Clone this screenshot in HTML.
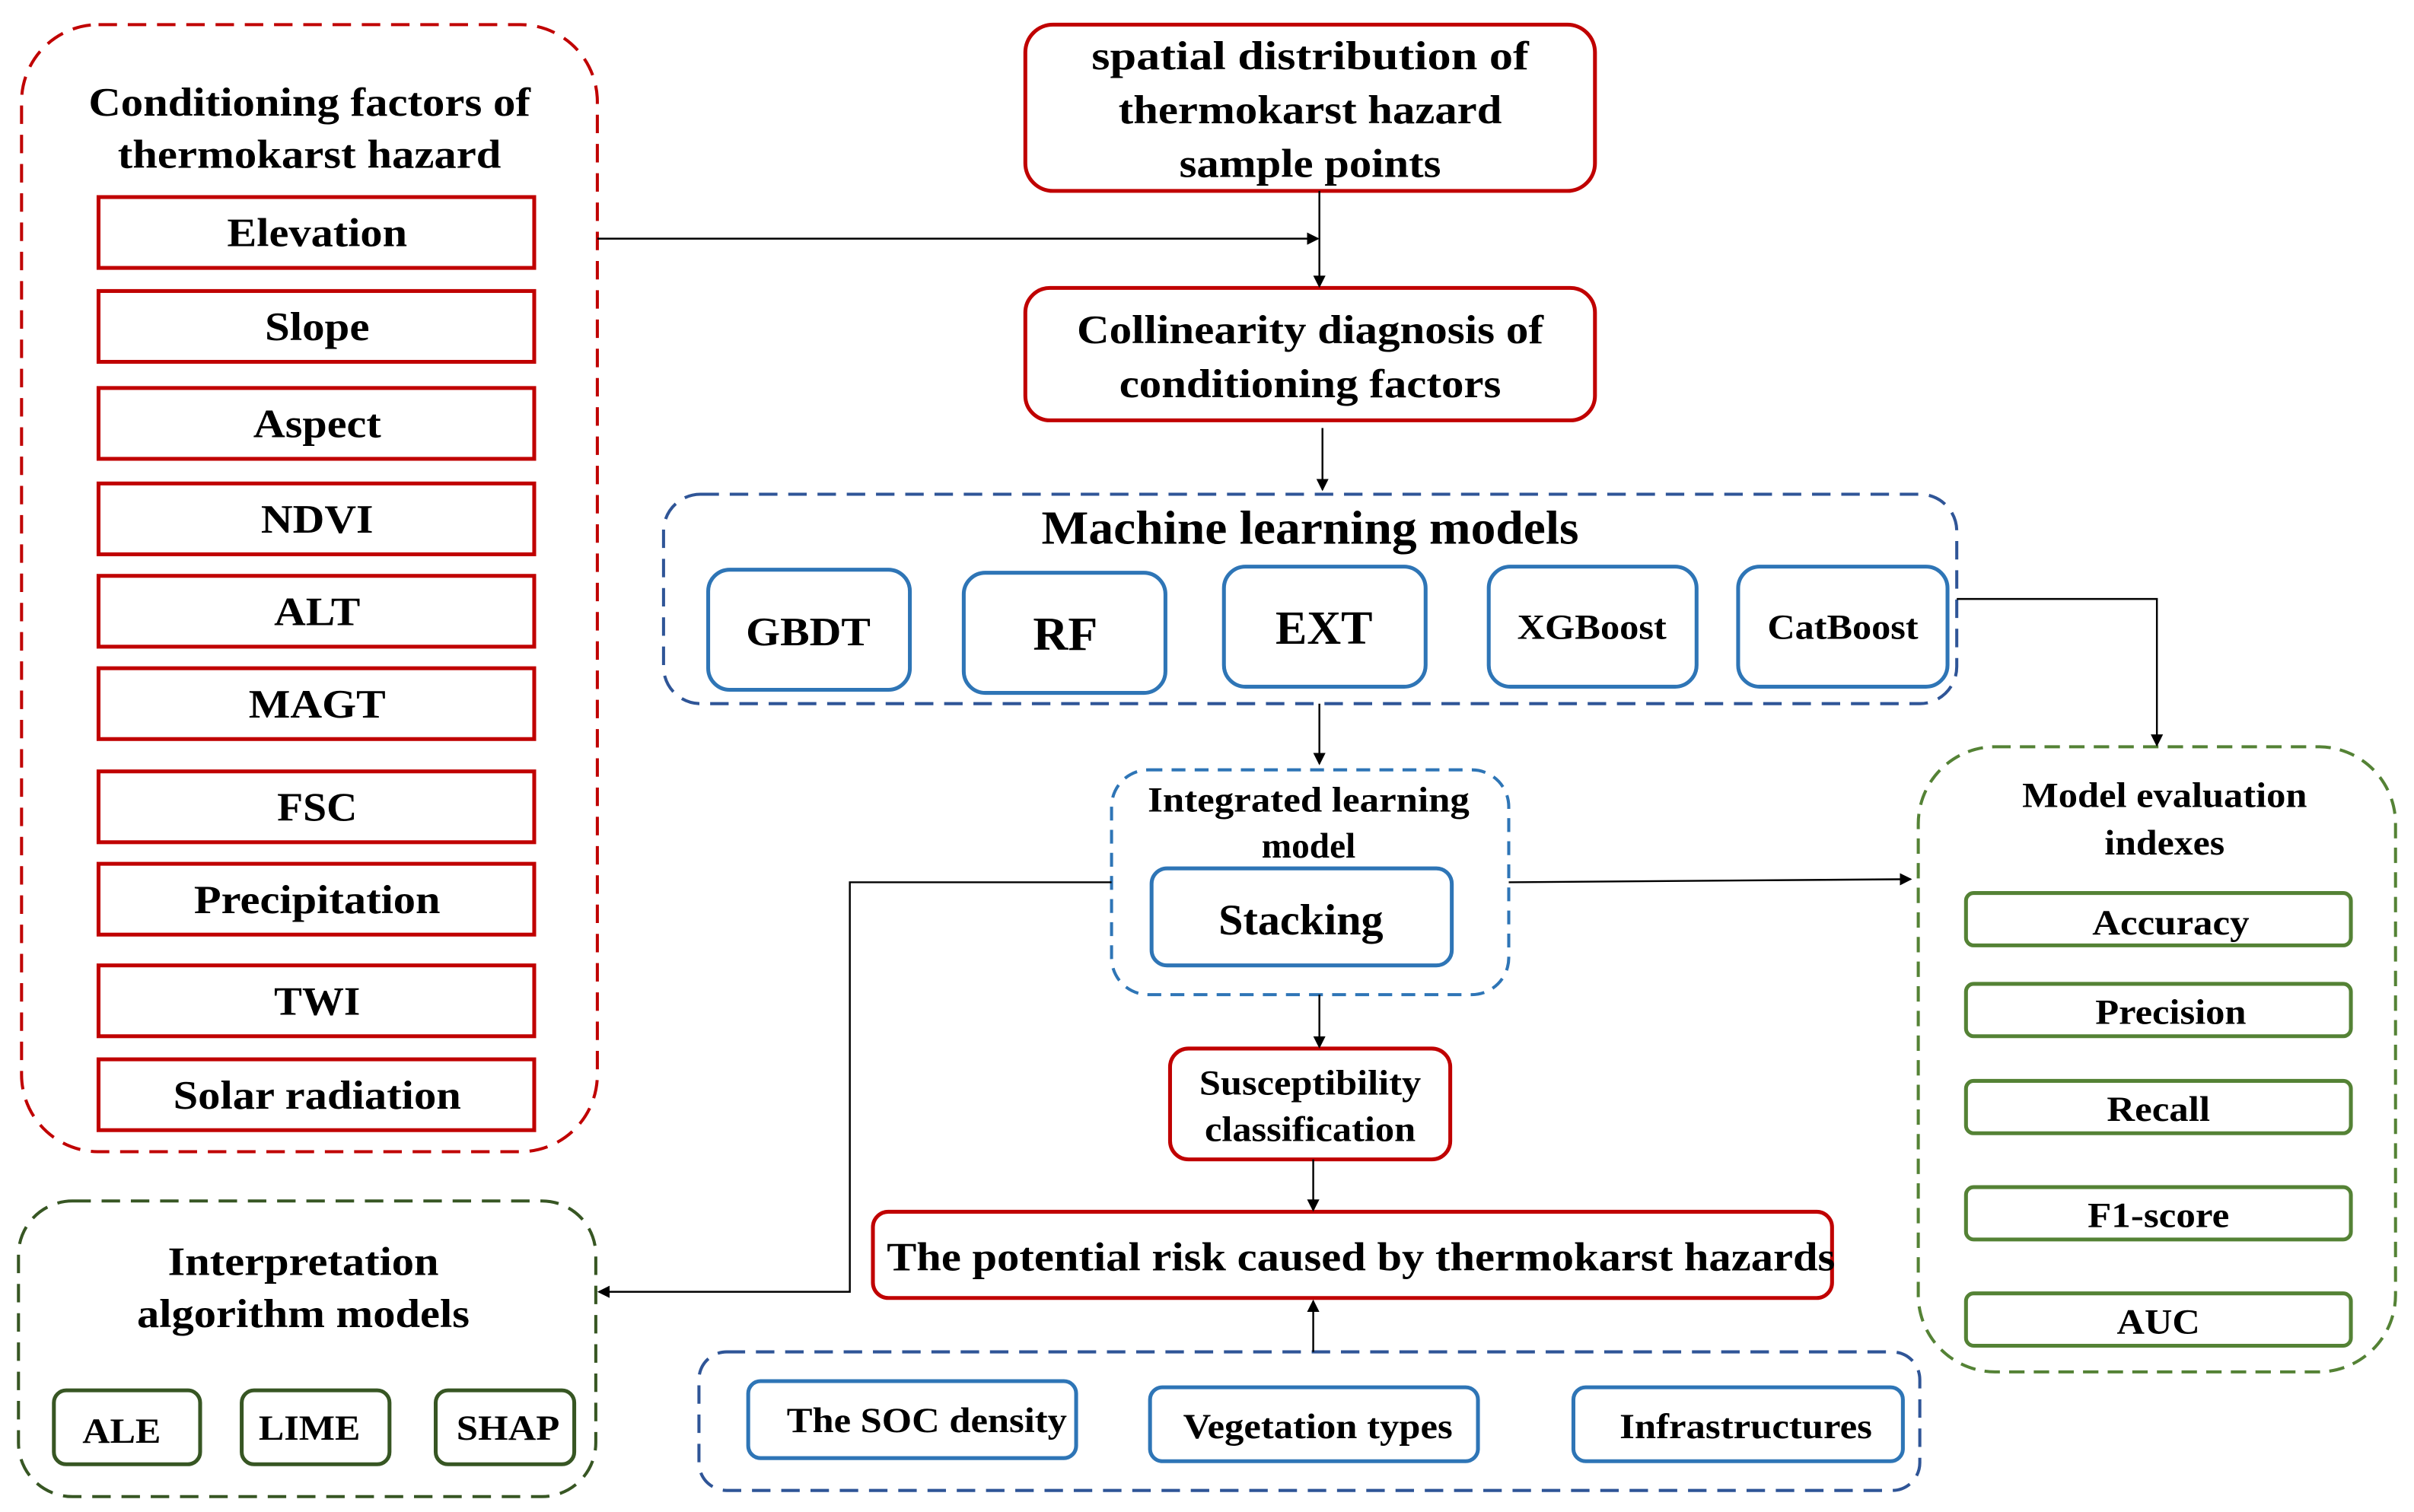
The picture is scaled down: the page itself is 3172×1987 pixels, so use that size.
<!DOCTYPE html>
<html><head><meta charset="utf-8"><style>
html,body{margin:0;padding:0;background:#fff;}
svg{display:block;}
text{font-family:"Liberation Serif",serif;font-weight:bold;fill:#000;text-anchor:middle;}
</style></head><body>
<svg width="3172" height="1987" viewBox="0 0 1568 982" preserveAspectRatio="none" xmlns="http://www.w3.org/2000/svg">
<defs>
<marker id="a" markerWidth="8" markerHeight="8" refX="7" refY="4" orient="auto" markerUnits="userSpaceOnUse"><path d="M0,0 L8,4 L0,8 z" fill="#000"/></marker>
</defs>
<g fill="none">
<!-- left red dashed -->
<rect x="14" y="16" width="374" height="732" rx="50" stroke="#c00000" stroke-width="2" stroke-dasharray="12,7"/>
<g stroke="#c00000" stroke-width="2.5">
<rect x="64" y="128" width="283" height="46"/><rect x="64" y="189" width="283" height="46"/>
<rect x="64" y="252" width="283" height="46"/><rect x="64" y="314" width="283" height="46"/>
<rect x="64" y="374" width="283" height="46"/><rect x="64" y="434" width="283" height="46"/>
<rect x="64" y="501" width="283" height="46"/><rect x="64" y="561" width="283" height="46"/>
<rect x="64" y="627" width="283" height="46"/><rect x="64" y="688" width="283" height="46"/>
<rect x="666" y="16" width="370" height="108" rx="18"/>
<rect x="666" y="187" width="370" height="86" rx="16"/>
<rect x="760" y="681" width="182" height="72" rx="12"/>
<rect x="567" y="787" width="623" height="56" rx="10"/>
</g>
<!-- blue dashed -->
<g stroke="#2f5597" stroke-width="2" stroke-dasharray="12,7">
<rect x="431" y="321" width="840" height="136" rx="24"/>
<rect x="454" y="878" width="793" height="90" rx="18"/>
</g>
<rect x="722" y="500" width="258" height="146" rx="24" stroke="#2e75b6" stroke-width="2" stroke-dasharray="9,6"/>
<g stroke="#2e75b6" stroke-width="2.5">
<rect x="460" y="370" width="131" height="78" rx="14"/>
<rect x="626" y="372" width="131" height="78" rx="14"/>
<rect x="795" y="368" width="131" height="78" rx="14"/>
<rect x="967" y="368" width="135" height="78" rx="14"/>
<rect x="1129" y="368" width="136" height="78" rx="14"/>
<rect x="748" y="564" width="195" height="63" rx="10"/>
<rect x="486" y="897" width="213" height="50" rx="8"/>
<rect x="747" y="901" width="213" height="48" rx="8"/>
<rect x="1022" y="901" width="214" height="48" rx="8"/>
</g>
<!-- green -->
<rect x="1246" y="485" width="310" height="406" rx="50" stroke="#548235" stroke-width="2" stroke-dasharray="10,6"/>
<rect x="12" y="780" width="375" height="192" rx="35" stroke="#375623" stroke-width="2" stroke-dasharray="12,7"/>
<g stroke="#548235" stroke-width="2.5">
<rect x="1277" y="580" width="250" height="34" rx="5"/>
<rect x="1277" y="639" width="250" height="34" rx="5"/>
<rect x="1277" y="702" width="250" height="34" rx="5"/>
<rect x="1277" y="771" width="250" height="34" rx="5"/>
<rect x="1277" y="840" width="250" height="34" rx="5"/>
</g>
<g stroke="#375623" stroke-width="2.5">
<rect x="35" y="903" width="95" height="48" rx="8"/>
<rect x="157" y="903" width="96" height="48" rx="8"/>
<rect x="283" y="903" width="90" height="48" rx="8"/>
</g>
<!-- connectors -->
<g stroke="#000" stroke-width="1.2">
<line x1="388" y1="155" x2="856" y2="155" marker-end="url(#a)"/>
<line x1="857" y1="124" x2="857" y2="186" marker-end="url(#a)"/>
<line x1="859" y1="278" x2="859" y2="318" marker-end="url(#a)"/>
<polyline points="1271,389 1401,389 1401,484" marker-end="url(#a)"/>
<line x1="857" y1="457" x2="857" y2="496" marker-end="url(#a)"/>
<polyline points="722,573 552,573 552,839 389,839" marker-end="url(#a)"/>
<line x1="980" y1="573" x2="1241" y2="571" marker-end="url(#a)"/>
<line x1="857" y1="646" x2="857" y2="680" marker-end="url(#a)"/>
<line x1="853" y1="753" x2="853" y2="786" marker-end="url(#a)"/>
<line x1="853" y1="878" x2="853" y2="845" marker-end="url(#a)"/>
</g>
</g>
<!-- text -->
<g font-size="26">
<text x="201" y="75" textLength="287" lengthAdjust="spacingAndGlyphs">Conditioning factors of</text>
<text x="201" y="109" textLength="249" lengthAdjust="spacingAndGlyphs">thermokarst hazard</text>
<text x="206" y="160" textLength="117" lengthAdjust="spacingAndGlyphs">Elevation</text>
<text x="206" y="221" textLength="68" lengthAdjust="spacingAndGlyphs">Slope</text>
<text x="206" y="284" textLength="83" lengthAdjust="spacingAndGlyphs">Aspect</text>
<text x="206" y="346" textLength="73" lengthAdjust="spacingAndGlyphs">NDVI</text>
<text x="206" y="406" textLength="56" lengthAdjust="spacingAndGlyphs">ALT</text>
<text x="206" y="466" textLength="89" lengthAdjust="spacingAndGlyphs">MAGT</text>
<text x="206" y="533" textLength="52" lengthAdjust="spacingAndGlyphs">FSC</text>
<text x="206" y="593" textLength="160" lengthAdjust="spacingAndGlyphs">Precipitation</text>
<text x="206" y="659" textLength="56" lengthAdjust="spacingAndGlyphs">TWI</text>
<text x="206" y="720" textLength="187" lengthAdjust="spacingAndGlyphs">Solar radiation</text>
<text x="851" y="45" textLength="284" lengthAdjust="spacingAndGlyphs">spatial  distribution  of</text>
<text x="851" y="80" textLength="249" lengthAdjust="spacingAndGlyphs">thermokarst hazard</text>
<text x="851" y="115" textLength="170" lengthAdjust="spacingAndGlyphs">sample points</text>
<text x="851" y="223" textLength="303" lengthAdjust="spacingAndGlyphs">Collinearity diagnosis of</text>
<text x="851" y="258" textLength="248" lengthAdjust="spacingAndGlyphs">conditioning factors</text>
<text x="884" y="825" textLength="616" lengthAdjust="spacingAndGlyphs">The potential risk caused by thermokarst hazards</text>
<text x="197" y="828" textLength="176" lengthAdjust="spacingAndGlyphs">Interpretation</text>
<text x="197" y="862" textLength="216" lengthAdjust="spacingAndGlyphs">algorithm models</text>
<text x="525" y="419" textLength="81" lengthAdjust="spacingAndGlyphs">GBDT</text>
</g>
<text x="851" y="353" font-size="31" textLength="349" lengthAdjust="spacingAndGlyphs">Machine learning models</text>
<text x="692" y="422" font-size="31" textLength="42" lengthAdjust="spacingAndGlyphs">RF</text>
<text x="860" y="418" font-size="31" textLength="63" lengthAdjust="spacingAndGlyphs">EXT</text>
<text x="845" y="607" font-size="28" textLength="107" lengthAdjust="spacingAndGlyphs">Stacking</text>
<g font-size="23">
<text x="1034" y="415" textLength="97" lengthAdjust="spacingAndGlyphs">XGBoost</text>
<text x="1197" y="415" textLength="98" lengthAdjust="spacingAndGlyphs">CatBoost</text>
<text x="850" y="527" textLength="209" lengthAdjust="spacingAndGlyphs">Integrated learning</text>
<text x="850" y="557" textLength="61" lengthAdjust="spacingAndGlyphs">model</text>
<text x="851" y="711" textLength="144" lengthAdjust="spacingAndGlyphs">Susceptibility</text>
<text x="851" y="741" textLength="137" lengthAdjust="spacingAndGlyphs">classification</text>
<text x="602" y="930" textLength="182" lengthAdjust="spacingAndGlyphs">The SOC density</text>
<text x="856" y="934" textLength="175" lengthAdjust="spacingAndGlyphs">Vegetation types</text>
<text x="1134" y="934" textLength="164" lengthAdjust="spacingAndGlyphs">Infrastructures</text>
<text x="1406" y="524" textLength="185" lengthAdjust="spacingAndGlyphs">Model evaluation</text>
<text x="1406" y="555" textLength="78" lengthAdjust="spacingAndGlyphs">indexes</text>
<text x="1410" y="607" textLength="102" lengthAdjust="spacingAndGlyphs">Accuracy</text>
<text x="1410" y="665" textLength="98" lengthAdjust="spacingAndGlyphs">Precision</text>
<text x="1402" y="728" textLength="67" lengthAdjust="spacingAndGlyphs">Recall</text>
<text x="1402" y="797" textLength="92" lengthAdjust="spacingAndGlyphs">F1-score</text>
<text x="1402" y="866" textLength="54" lengthAdjust="spacingAndGlyphs">AUC</text>
<text x="79" y="937" textLength="51" lengthAdjust="spacingAndGlyphs">ALE</text>
<text x="201" y="935" textLength="66" lengthAdjust="spacingAndGlyphs">LIME</text>
<text x="330" y="935" textLength="67" lengthAdjust="spacingAndGlyphs">SHAP</text>
</g>
</svg>
</body></html>
